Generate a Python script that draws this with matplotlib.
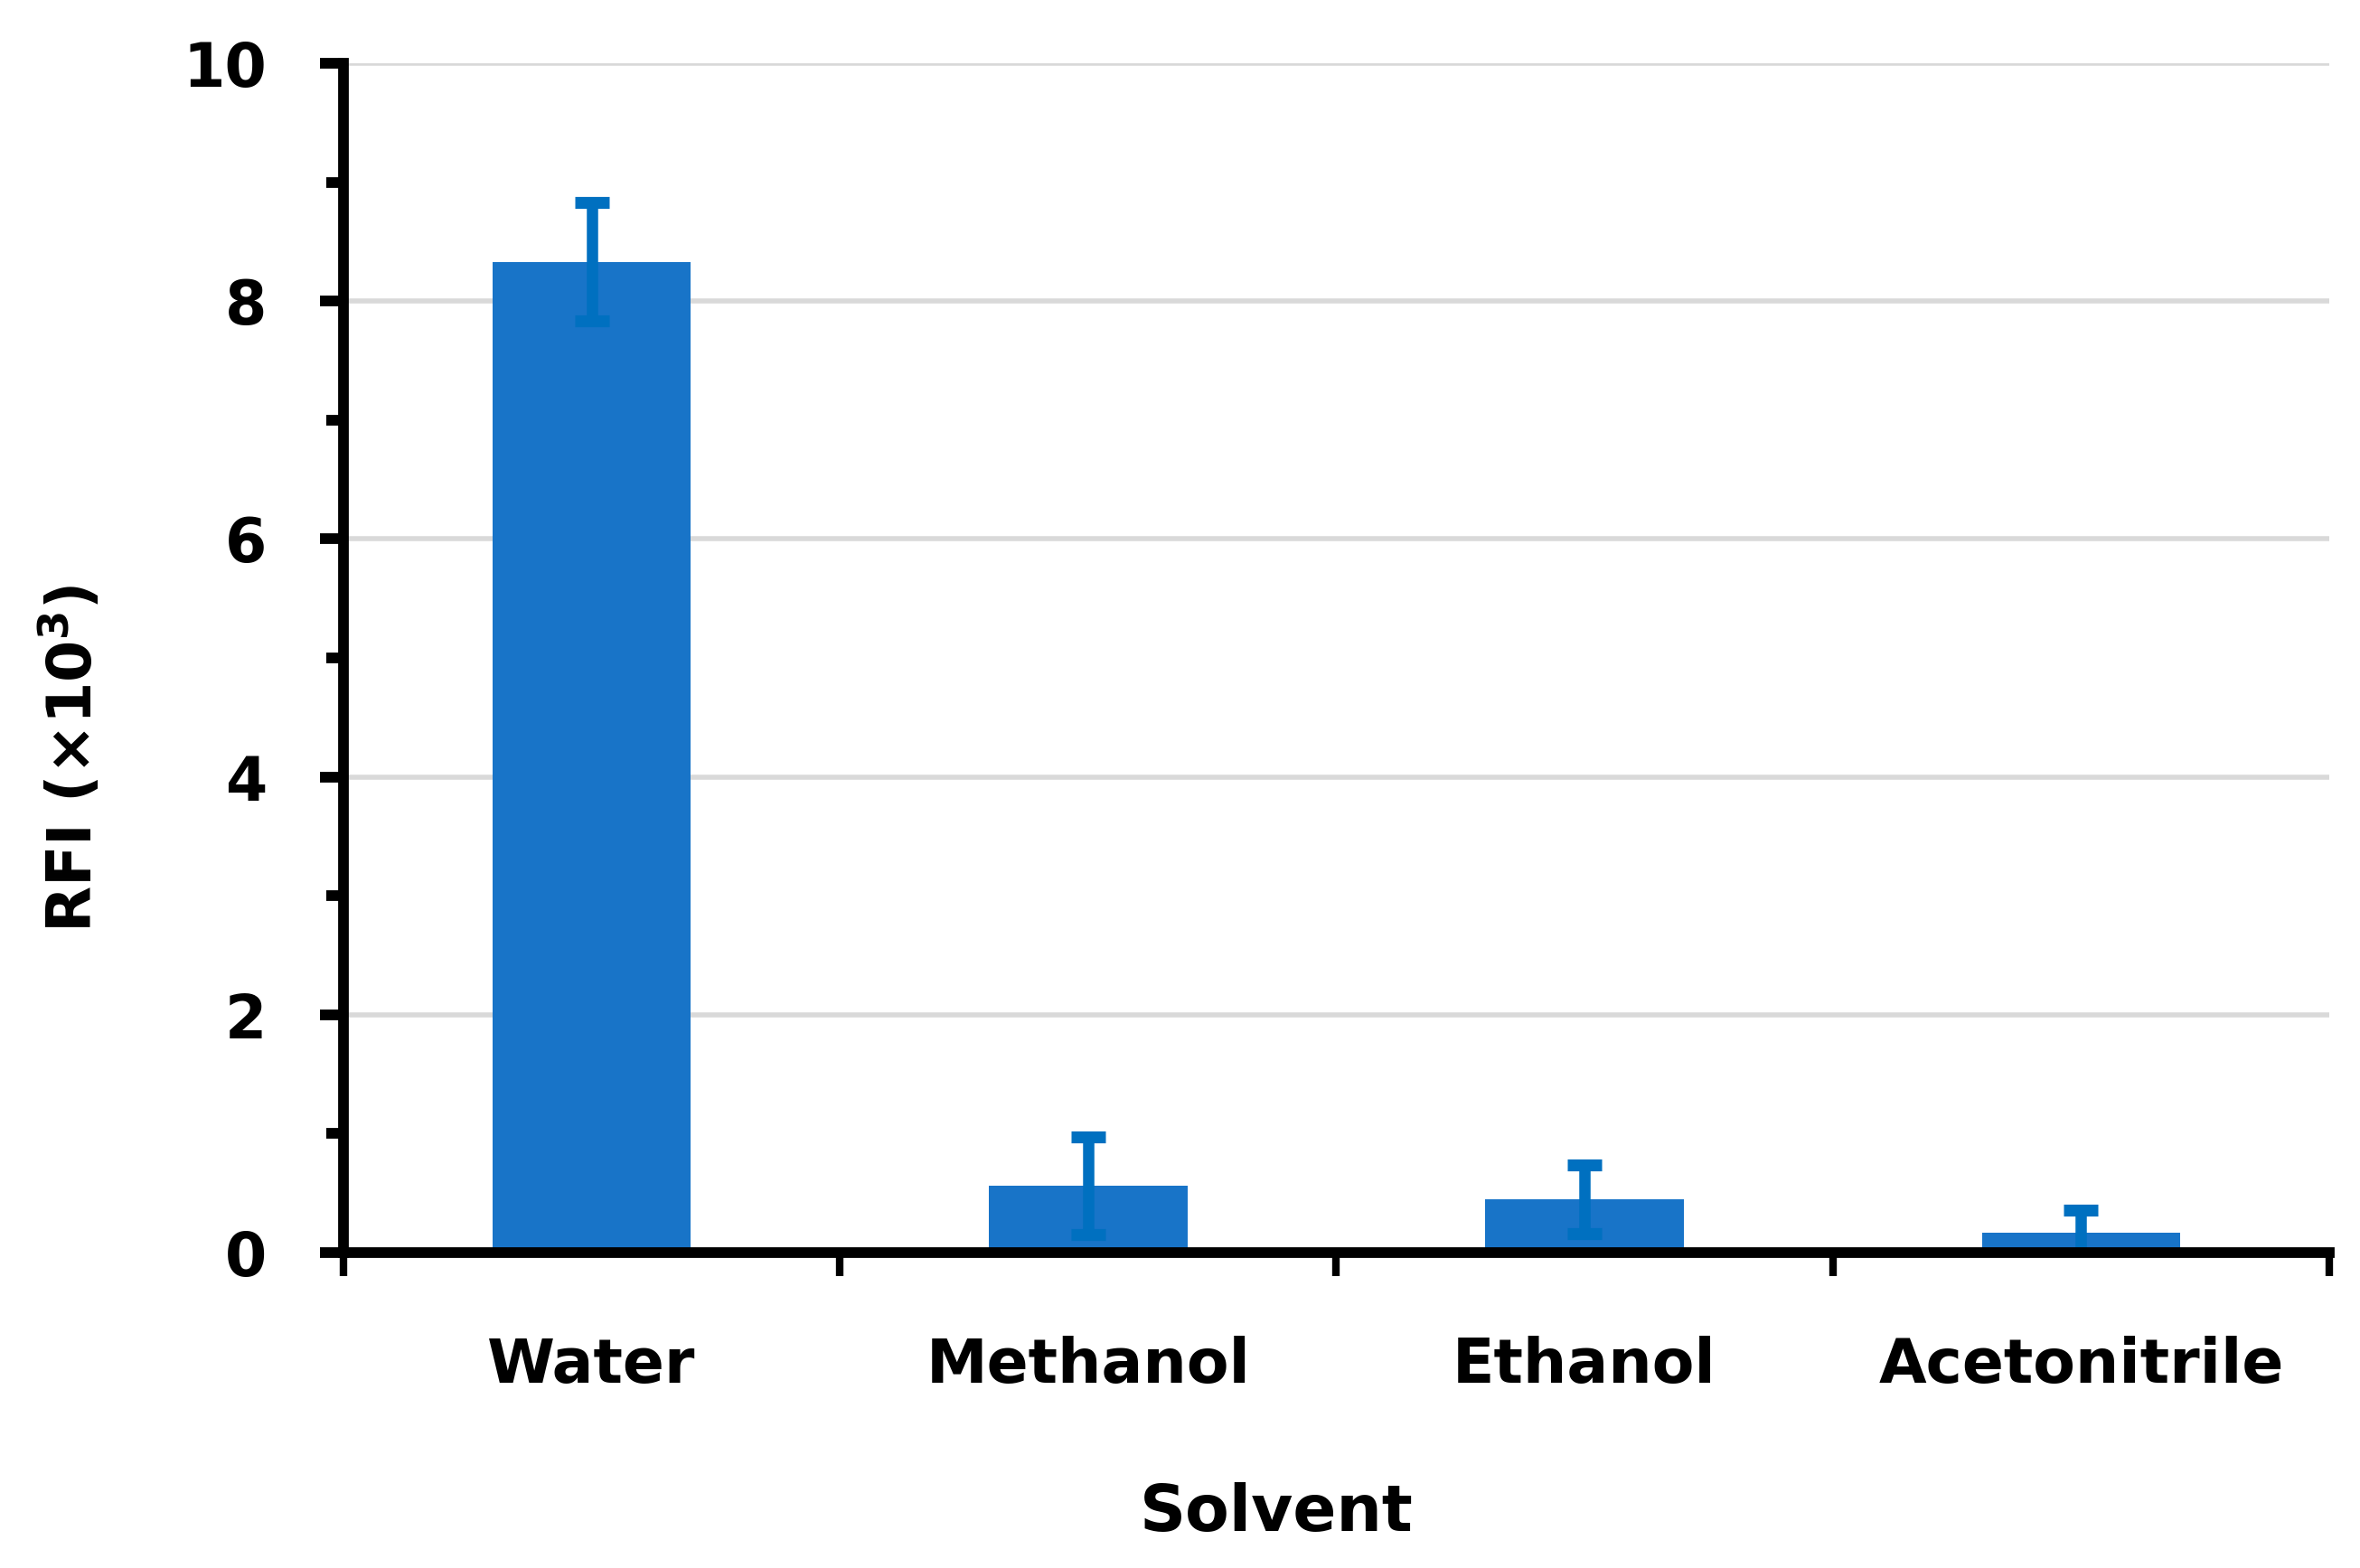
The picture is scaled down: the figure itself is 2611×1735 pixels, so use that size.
import numpy as np
import matplotlib.pyplot as plt
from matplotlib.ticker import MultipleLocator, FixedLocator

"""Data read off the reference"""
solvents = ['Water', 'Methanol', 'Ethanol', 'Acetonitrile']
rfi = [8.33, 0.56, 0.45, 0.17]          # RFI (x10^3)
rfi_err = [0.50, 0.41, 0.29, 0.19]      # error bar half-widths

bar_color = '#1874C8'
err_color = '#0070C0'

plt.rcParams['font.family'] = ['DejaVu Sans']
plt.rcParams['font.weight'] = 'bold'

fig = plt.figure(figsize=(26.11, 17.35), dpi=100)
ax = fig.add_axes([0.1455, 0.2012, 0.8415, 0.7585])

x = np.arange(len(solvents))
ax.bar(x, rfi, width=0.4, color=bar_color, zorder=2)
ax.errorbar(x, rfi, yerr=rfi_err, fmt='none', ecolor=err_color,
            elinewidth=9, capsize=13.5, capthick=9.5, zorder=3)

ax.set_xlim(-0.5, len(solvents) - 0.5)
ax.set_ylim(0, 10)

# y axis ticks
ax.yaxis.set_major_locator(MultipleLocator(2))
ax.yaxis.set_minor_locator(MultipleLocator(1))
ax.tick_params(axis='y', which='major', length=19, width=8.5, direction='out',
               labelsize=48, pad=42, color='black')
ax.tick_params(axis='y', which='minor', length=14, width=8.5, direction='out')

# x axis: labels at centres, tick marks at category boundaries
ax.set_xticks(x)
ax.set_xticklabels(solvents)
ax.xaxis.set_minor_locator(FixedLocator(np.arange(-0.5, len(solvents), 1.0)))
ax.tick_params(axis='x', which='major', length=0, labelsize=49, pad=66)
ax.tick_params(axis='x', which='minor', length=19, width=6, direction='out')
for lbl in ax.get_xticklabels() + ax.get_yticklabels():
    lbl.set_fontweight('bold')

ax.grid(axis='y', which='major', color='#D9D9D9', linewidth=4, zorder=0)
ax.set_axisbelow(True)

for s in ['top', 'right']:
    ax.spines[s].set_visible(False)
for s in ['left', 'bottom']:
    ax.spines[s].set_linewidth(8.5)
    ax.spines[s].set_color('black')
    ax.spines[s].set_zorder(4)

ax.set_xlabel('Solvent', fontsize=51, fontweight='bold')
ax.xaxis.set_label_coords(0.47, -0.193)
ax.set_ylabel('RFI (×10$^{\\mathbf{3}}$)', fontsize=48, fontweight='bold')
ax.yaxis.set_label_coords(-0.12, 0.415)

fig.savefig('out.png', dpi=100)
